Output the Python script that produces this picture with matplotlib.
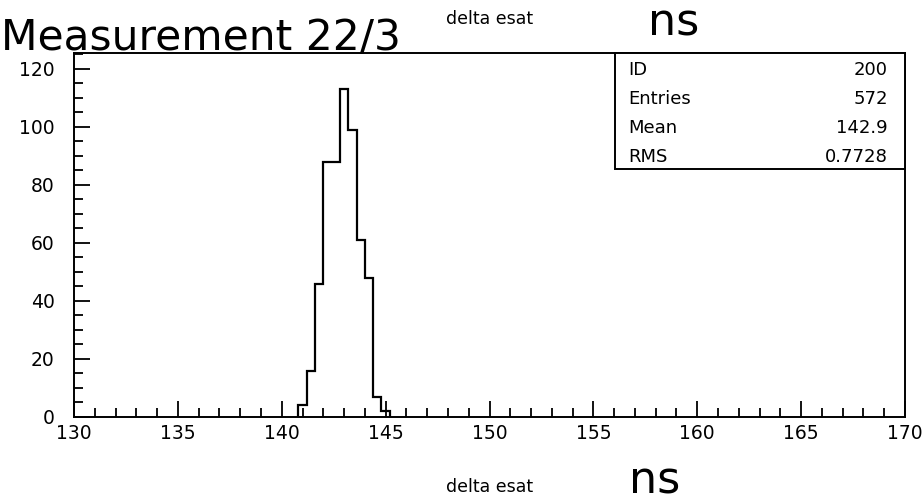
import matplotlib
matplotlib.use("Agg")
import matplotlib.pyplot as plt
from matplotlib.ticker import MultipleLocator

# histogram "delta esat" (ID 200), bins of 0.4 ns
bin_edges = [140.8, 141.2, 141.6, 142.0, 142.4, 142.8, 143.2,
             143.6, 144.0, 144.4, 144.8, 145.2]
counts = [4, 16, 46, 88, 88, 113, 99, 61, 48, 7, 2]

stat_names = ["ID", "Entries", "Mean", "RMS"]
stat_values = ["200", "572", "142.9", "0.7728"]

x_range = (130, 170)
y_range = (0, 125.5)

W, H = 923, 504
fig = plt.figure(figsize=(W / 100, H / 100), dpi=100)
ax = fig.add_axes([74 / W, 1 - 417 / H, (905 - 74) / W, (417 - 53) / H])

ax.stairs(counts, bin_edges, color="black", linewidth=1.6, baseline=0)

ax.set_xlim(*x_range)
ax.set_ylim(*y_range)
ax.xaxis.set_major_locator(MultipleLocator(5))
ax.xaxis.set_minor_locator(MultipleLocator(1))
ax.yaxis.set_major_locator(MultipleLocator(20))
ax.yaxis.set_minor_locator(MultipleLocator(5))
ax.tick_params(which="both", direction="in", top=False, right=False,
               width=1.3, labelsize=13.5, colors="black")
ax.tick_params(which="major", length=11.5)
ax.tick_params(which="minor", length=6.5)
ax.tick_params(axis="y", pad=14)
ax.tick_params(axis="x", pad=5)
for s in ax.spines.values():
    s.set_linewidth(1.4)

# stats box
def fx(px):
    return px / W

def fy(py):
    return 1 - py / H

box = plt.Rectangle((fx(615), fy(169)), fx(905) - fx(615), fy(53) - fy(169),
                    transform=fig.transFigure, fill=True, facecolor="white",
                    edgecolor="black", linewidth=1.4, zorder=5)
fig.patches.append(box)
for i, (n, v) in enumerate(zip(stat_names, stat_values)):
    yy = fy(70 + 29 * i)
    fig.text(fx(628), yy, n, ha="left", va="center", fontsize=13, zorder=6)
    fig.text(fx(888), yy, v, ha="right", va="center", fontsize=13, zorder=6)

# titles
fig.text(0.001, fy(50), "Measurement 22/3", ha="left", va="baseline",
         fontsize=30.5)
fig.text(fx(490), fy(19), "delta esat", ha="center", va="center", fontsize=12.5)
fig.text(fx(674), fy(35), "ns", ha="center", va="baseline", fontsize=32)
fig.text(fx(490), fy(487), "delta esat", ha="center", va="center", fontsize=12.5)
fig.text(fx(655), fy(493), "ns", ha="center", va="baseline", fontsize=32)

fig.savefig("out.png", dpi=100)
